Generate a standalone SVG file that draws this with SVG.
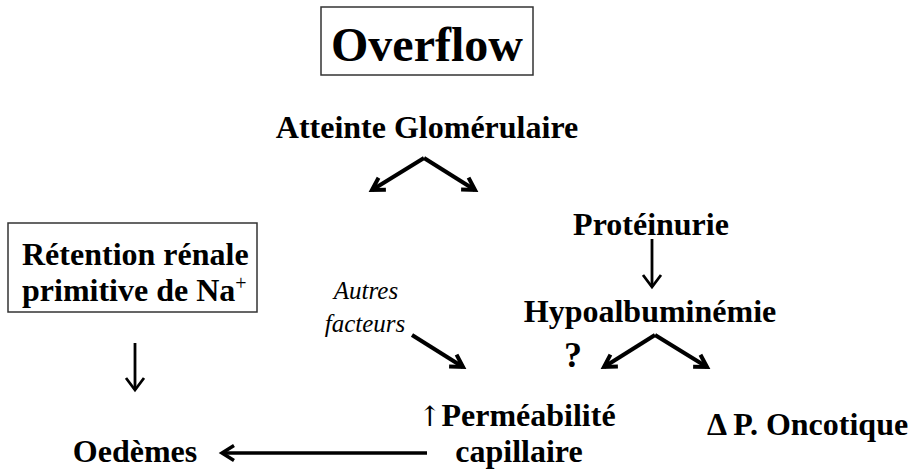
<svg xmlns="http://www.w3.org/2000/svg" width="920" height="475" viewBox="0 0 920 475">
<style>
.b{font-family:"Liberation Serif","Times New Roman",serif;font-weight:bold;font-size:32px;fill:#000}
.i{font-family:"Liberation Serif","Times New Roman",serif;font-style:italic;font-size:25px;fill:#000}
.arr{font-family:"DejaVu Serif","DejaVu Sans",serif;font-weight:normal;font-size:28px;fill:#000}
.box{fill:#fff;stroke:#333;stroke-width:1.5}
.thick{stroke:#000;stroke-width:4;fill:none}
.med{stroke:#000;stroke-width:3.5;fill:none}
.thin{stroke:#000;stroke-width:2.8;fill:none}
</style>
<defs>
<marker id="hT" markerUnits="userSpaceOnUse" markerWidth="20" markerHeight="20" refX="16" refY="10" orient="auto" overflow="visible">
<path d="M4,3 L16,10 L4,17" fill="none" stroke="#000" stroke-width="4" stroke-linejoin="miter"/>
</marker>
<marker id="hM" markerUnits="userSpaceOnUse" markerWidth="20" markerHeight="20" refX="15" refY="10" orient="auto" overflow="visible">
<path d="M3,2.5 L15,10 L3,17.5" fill="none" stroke="#000" stroke-width="3.5"/>
</marker>
<marker id="hS" markerUnits="userSpaceOnUse" markerWidth="18" markerHeight="22" refX="14" refY="11" orient="auto" overflow="visible">
<path d="M2,2 L14,11 L2,20" fill="none" stroke="#000" stroke-width="2.8"/>
</marker>
</defs>

<g id="title">
<rect class="box" x="321" y="7" width="212" height="68"/>
<text class="b" x="427" y="61" text-anchor="middle" style="font-size:48px">Overflow</text>
</g>

<g id="atteinte">
<text class="b" x="427" y="138" text-anchor="middle">Atteinte Glomérulaire</text>
</g>

<g id="proteinurie">
<text class="b" x="651" y="235" text-anchor="middle">Protéinurie</text>
</g>

<g id="retention">
<rect class="box" x="8" y="223" width="249" height="89"/>
<text class="b" x="22" y="265">Rétention rénale</text>
<text class="b" x="22" y="301">primitive de Na<tspan style="font-weight:normal;font-size:20px" dy="-11">+</tspan></text>
</g>

<g id="autres">
<text class="i" x="366" y="299" text-anchor="middle">Autres</text>
<text class="i" x="365" y="332" text-anchor="middle">facteurs</text>
</g>

<g id="hypo">
<text class="b" x="650" y="322" text-anchor="middle">Hypoalbuminémie</text>
</g>

<g id="question">
<text class="b" x="573" y="367" text-anchor="middle" style="font-size:36px">?</text>
</g>

<g id="permeabilite">
<text class="b" x="418" y="426"><tspan class="arr">↑</tspan>Perméabilité</text>
<text class="b" x="519" y="462" text-anchor="middle">capillaire</text>
</g>

<g id="oncotique">
<text class="b" x="707" y="435">Δ P. Oncotique</text>
</g>

<g id="oedemes">
<text class="b" x="135" y="462" text-anchor="middle">Oedèmes</text>
</g>

<g id="connectors">
<line class="thick" x1="424" y1="158" x2="372" y2="190" marker-end="url(#hT)"/>
<line class="thick" x1="424" y1="158" x2="475" y2="190" marker-end="url(#hT)"/>
<line class="thin" x1="652" y1="239" x2="652" y2="287" marker-end="url(#hS)"/>
<line class="thick" x1="655" y1="335" x2="604" y2="367" marker-end="url(#hT)"/>
<line class="thick" x1="655" y1="335" x2="707" y2="367" marker-end="url(#hT)"/>
<line class="thick" x1="412" y1="335" x2="463" y2="367" marker-end="url(#hT)"/>
<line class="thin" x1="135" y1="343" x2="135" y2="390" marker-end="url(#hS)"/>
<line class="med" x1="427" y1="453" x2="222" y2="453" marker-end="url(#hM)"/>
</g>
</svg>
